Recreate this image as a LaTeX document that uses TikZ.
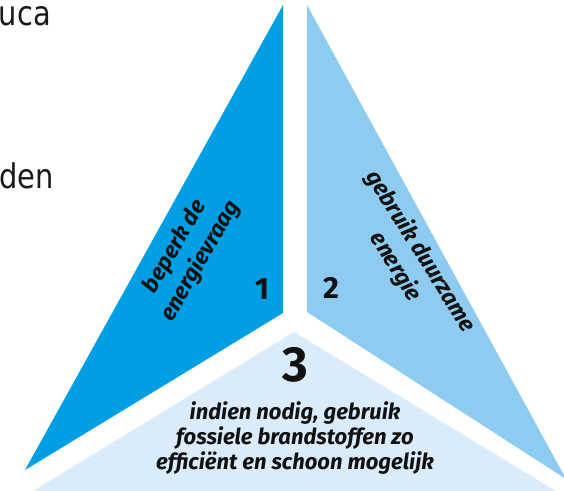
\documentclass[tikz,border=0pt]{standalone}
\usepackage{fontspec}
\setmainfont{Fira Sans}
\newfontfamily\slidefont[FakeStretch=0.85]{DejaVu Sans}
\usetikzlibrary{positioning}
\definecolor{TriDeep}{HTML}{009FE3}
\definecolor{TriMid}{HTML}{8ECBF0}
\definecolor{TriPale}{HTML}{DAEBFA}
\definecolor{TriInk}{HTML}{111111}
\definecolor{SlideInk}{HTML}{1A1A1A}
\tikzset{
  piece/.style={draw=none},
  pieceone/.style={piece,fill=TriDeep},
  piecetwo/.style={piece,fill=TriMid},
  piecethree/.style={piece,fill=TriPale},
  stepnum/.style={text=TriInk,font=\fontsize{23}{26}\selectfont\bfseries,inner sep=0pt},
  sidecopy/.style={text=TriInk,font=\fontsize{17}{22}\selectfont\bfseries\itshape,
                   align=center,inner sep=0pt},
  basecopy/.style={text=TriInk,font=\fontsize{16.5}{19}\selectfont\bfseries\itshape,
                   align=center,inner sep=0pt},
  slideword/.style={text=SlideInk,font=\slidefont\fontsize{25.5}{30}\selectfont,inner sep=0pt},
}

\begin{document}
\begin{tikzpicture}[x=0.75pt,y=-0.75pt]
    \useasboundingbox (0,0) rectangle (564,490);
    \clip (0,0) rectangle (564,490);

    % ------------------------------------------------ slide text cut off at the left
    \node[slideword,anchor=base east] (wordtop) at (51,25)  {uca};
    \node[slideword,anchor=base east] (wordmid) at (54,188) {den};

    % ------------------------------------------------------------ three pieces
    \path[pieceone]   (283,5) -- (283,313) -- (25,470) -- cycle;
    \path[piecetwo]   (307,5) -- (307,312) -- (566,479) -- cycle;
    \path[piecethree] (294,332) -- (33,491) -- (556,491) -- cycle;

    % ------------------------------------------------------------ labels
    \node[sidecopy,rotate=60]  (demand)  at (188,254) {beperk de\\energievraag};
    \node[sidecopy,rotate=-58] (renew)   at (408,259) {gebruik duurzame\\energie};
    \node[stepnum] (one)   at (262,289) {1};
    \node[stepnum] (two)   at (331,288) {2};
    \node[stepnum,font=\fontsize{37}{40}\selectfont\bfseries] (three) at (295,365) {3};
    \node[basecopy] (fossil) at (295,438)
      {indien nodig, gebruik\\fossiele brandstoffen zo\\efficiënt en schoon mogelijk};
\end{tikzpicture}
\end{document}
